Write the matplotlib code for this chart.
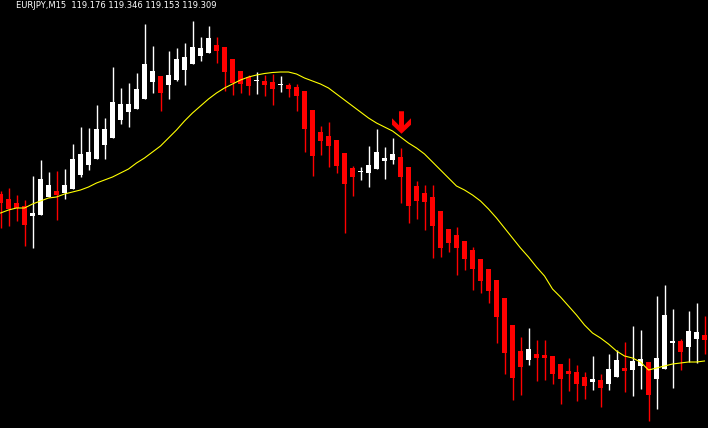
import matplotlib
matplotlib.use("Agg")
import matplotlib.pyplot as plt
from matplotlib.path import Path
import numpy as np

symbol_label = "EURJPY,M15"
header_values = ["119.176", "119.346", "119.153", "119.309"]

opens = [119.412, 119.402, 119.394, 119.388, 119.368, 119.370, 119.406, 119.418, 119.414, 119.422,
         119.450, 119.470, 119.482, 119.510, 119.524, 119.560, 119.576, 119.582, 119.602, 119.636,
         119.648, 119.630, 119.640, 119.660, 119.672, 119.688, 119.694, 119.710, 119.706, 119.682,
         119.658, 119.646, 119.638, 119.638, 119.636, 119.630, 119.630, 119.626, 119.618, 119.580,
         119.536, 119.528, 119.520, 119.494, 119.464, 119.456, 119.454, 119.462, 119.478, 119.480,
         119.486, 119.466, 119.428, 119.414, 119.406, 119.378, 119.342, 119.330, 119.318, 119.300,
         119.282, 119.262, 119.240, 119.204, 119.150, 119.098, 119.080, 119.092, 119.090, 119.088,
         119.072, 119.058, 119.056, 119.046, 119.036, 119.040, 119.032, 119.046, 119.064, 119.060,
         119.068, 119.076, 119.042, 119.062, 119.114, 119.118, 119.106, 119.122, 119.130]
highs = [119.418, 119.424, 119.410, 119.400, 119.448, 119.480, 119.456, 119.458, 119.462, 119.512,
         119.546, 119.544, 119.590, 119.564, 119.666, 119.624, 119.634, 119.654, 119.752, 119.708,
         119.648, 119.698, 119.704, 119.714, 119.758, 119.726, 119.748, 119.726, 119.706, 119.682,
         119.658, 119.650, 119.656, 119.650, 119.652, 119.648, 119.634, 119.632, 119.618, 119.580,
         119.548, 119.556, 119.520, 119.494, 119.468, 119.466, 119.508, 119.542, 119.506, 119.524,
         119.504, 119.466, 119.438, 119.430, 119.430, 119.378, 119.342, 119.346, 119.318, 119.306,
         119.282, 119.262, 119.240, 119.204, 119.150, 119.126, 119.144, 119.120, 119.120, 119.088,
         119.072, 119.084, 119.070, 119.056, 119.088, 119.052, 119.092, 119.100, 119.116, 119.148,
         119.140, 119.076, 119.208, 119.230, 119.182, 119.122, 119.178, 119.194, 119.168]
lows = [119.344, 119.348, 119.358, 119.308, 119.304, 119.370, 119.406, 119.360, 119.402, 119.422,
        119.446, 119.460, 119.482, 119.482, 119.524, 119.552, 119.546, 119.582, 119.602, 119.614,
        119.578, 119.602, 119.638, 119.630, 119.672, 119.678, 119.694, 119.674, 119.618, 119.610,
        119.614, 119.610, 119.612, 119.608, 119.590, 119.616, 119.606, 119.578, 119.496, 119.448,
        119.490, 119.466, 119.454, 119.334, 119.408, 119.440, 119.426, 119.462, 119.442, 119.472,
        119.394, 119.354, 119.362, 119.340, 119.284, 119.286, 119.296, 119.250, 119.260, 119.220,
        119.214, 119.194, 119.114, 119.052, 119.000, 119.010, 119.070, 119.038, 119.040, 119.032,
        118.992, 119.018, 118.998, 119.002, 119.020, 118.986, 119.020, 119.046, 119.016, 119.008,
        119.022, 118.958, 118.982, 119.062, 119.024, 119.060, 119.076, 119.074, 119.092]
closes = [119.394, 119.382, 119.384, 119.350, 119.374, 119.442, 119.430, 119.410, 119.430, 119.482,
          119.492, 119.496, 119.542, 119.542, 119.596, 119.592, 119.592, 119.622, 119.672, 119.658,
          119.614, 119.650, 119.682, 119.686, 119.706, 119.704, 119.724, 119.698, 119.656, 119.634,
          119.632, 119.628, 119.640, 119.630, 119.622, 119.632, 119.622, 119.608, 119.542, 119.488,
          119.518, 119.508, 119.468, 119.432, 119.446, 119.458, 119.470, 119.496, 119.484, 119.492,
          119.446, 119.388, 119.398, 119.396, 119.348, 119.304, 119.314, 119.304, 119.282, 119.262,
          119.238, 119.218, 119.166, 119.094, 119.044, 119.066, 119.102, 119.084, 119.084, 119.052,
          119.042, 119.052, 119.032, 119.028, 119.042, 119.024, 119.062, 119.080, 119.058, 119.078,
          119.082, 119.010, 119.084, 119.170, 119.118, 119.096, 119.138, 119.136, 119.120]
moving_average = [119.374, 119.380, 119.384, 119.384, 119.392, 119.398, 119.404, 119.406, 119.412, 119.416,
                  119.420, 119.426, 119.434, 119.440, 119.446, 119.454, 119.462, 119.474, 119.484, 119.496,
                  119.508, 119.524, 119.540, 119.558, 119.574, 119.588, 119.602, 119.614, 119.624, 119.632,
                  119.640, 119.646, 119.650, 119.653, 119.655, 119.656, 119.656, 119.652, 119.644, 119.638,
                  119.632, 119.624, 119.612, 119.600, 119.588, 119.576, 119.564, 119.554, 119.546, 119.538,
                  119.526, 119.514, 119.504, 119.492, 119.476, 119.460, 119.444, 119.428, 119.420, 119.410,
                  119.398, 119.382, 119.364, 119.344, 119.324, 119.304, 119.286, 119.266, 119.248, 119.222,
                  119.206, 119.188, 119.170, 119.150, 119.134, 119.124, 119.112, 119.098, 119.088, 119.084,
                  119.076, 119.060, 119.064, 119.068, 119.072, 119.074, 119.076, 119.076, 119.078]
signal_index = 50
signal_price = 119.5555

W, H, DPI = 708, 428, 100
fig = plt.figure(figsize=(W / DPI, H / DPI), dpi=DPI, facecolor="black")
ax = fig.add_axes([0, 0, 1, 1])
ax.set_facecolor("black")
ax.axis("off")

px = 8.0  # pixels per bar
ax.set_xlim(-0.5 / px, (W - 0.5) / px)
ax.set_ylim(119.800 - 0.002 * H, 119.800)

o = np.array(opens); h = np.array(highs); l = np.array(lows); c = np.array(closes)
x = np.arange(len(o))
bull = c >= o
colors = np.where(bull, "#FFFFFF", "#FF0000")

ax.vlines(x, l, h, colors=colors, linewidth=1.0, zorder=2)
body_bottom = np.minimum(o, c)
body_h = np.maximum(np.abs(c - o), 0.002)
ax.bar(x, body_h, bottom=body_bottom, width=5 / px, color=colors, linewidth=0, zorder=3)

ax.plot(x, moving_average, color="#FFFF00", linewidth=0.8, zorder=4)

arrow_verts = [(-2.5, 11.25), (2.5, 11.25), (2.5, -2.75), (9.5, 4.25), (9.5, -2.25),
               (0, -11.25), (-9.5, -2.25), (-9.5, 4.25), (-2.5, -2.75), (-2.5, 11.25)]
arrow_codes = [Path.MOVETO] + [Path.LINETO] * 8 + [Path.CLOSEPOLY]
arrow_path = Path(arrow_verts, arrow_codes)
ax.plot([signal_index], [signal_price], marker=arrow_path, markersize=22.5 * 72 / DPI,
        color="#FF0000", markeredgewidth=0, linestyle="none", zorder=5)

header = symbol_label + "  " + " ".join(header_values)
fig.text(16 / W, 1 - 8.5 / H, header, color="white", fontsize=6.0,
         family="DejaVu Sans", ha="left", va="baseline")

fig.savefig("out.png", dpi=DPI, facecolor="black")
